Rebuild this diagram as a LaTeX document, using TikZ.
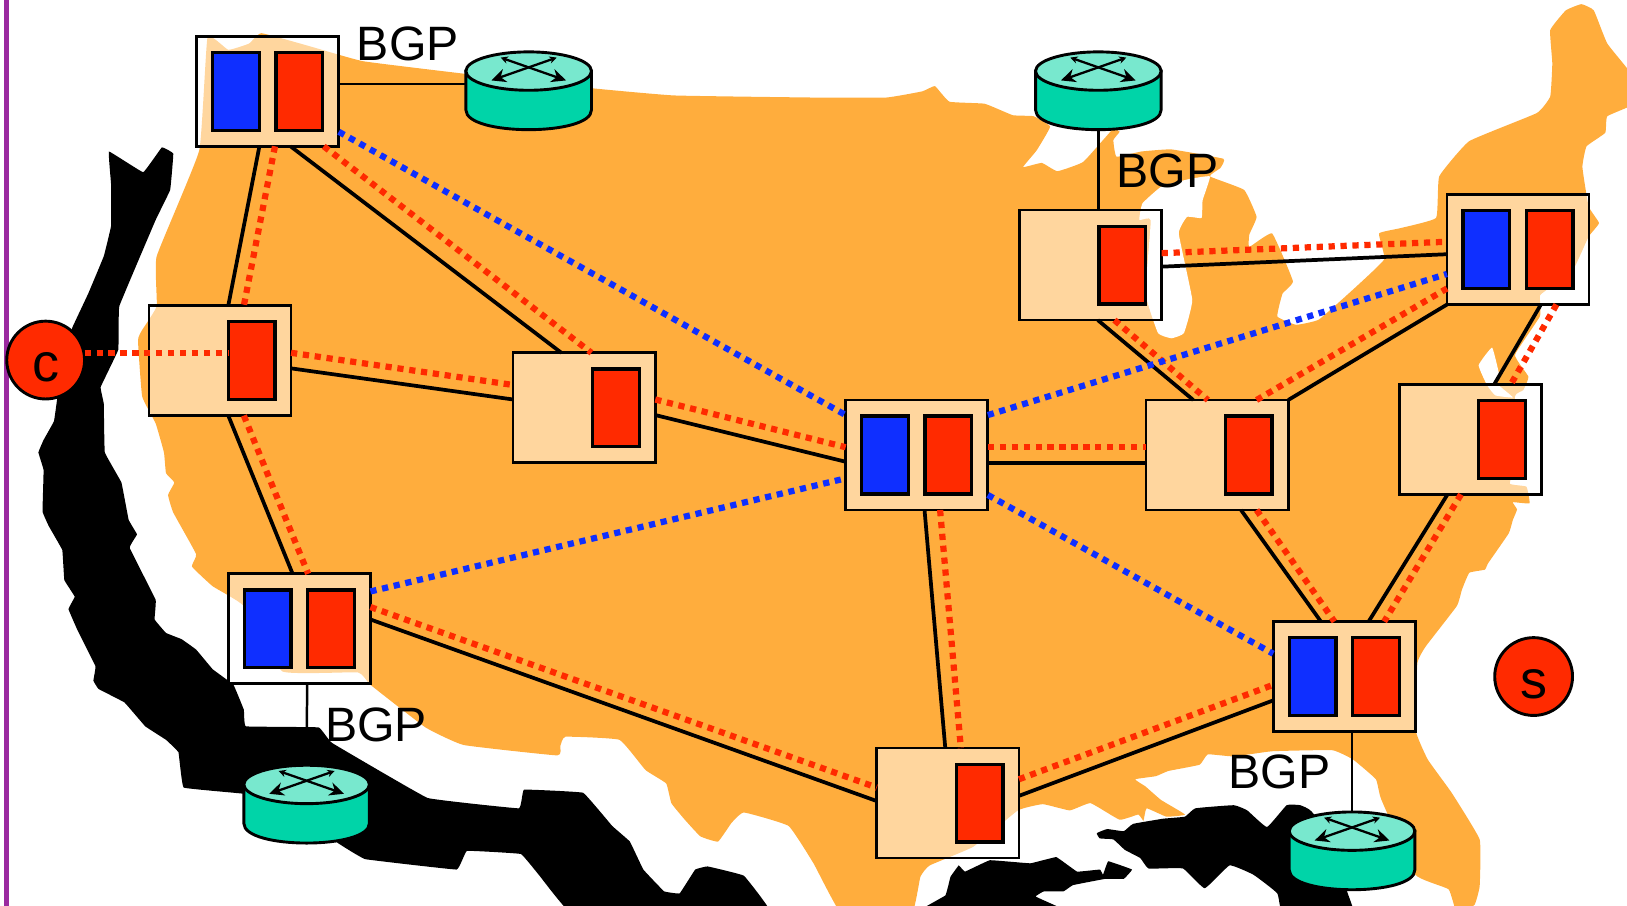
\documentclass[tikz,border=0pt]{standalone}
\usepackage{fontspec}
\setmainfont{Liberation Sans}
\usetikzlibrary{arrows.meta,shapes.geometric}

\definecolor{mapcol}{HTML}{FFAD3D}
\definecolor{redcol}{HTML}{FF2A00}
\definecolor{bluecol}{HTML}{0F2FFF}
\definecolor{sidecol}{HTML}{00D4A8}
\definecolor{topcol}{HTML}{78E8CE}
\definecolor{barcol}{HTML}{9B2AA0}

\tikzset{
  card/.style={rectangle,draw=black,line width=2.6pt,fill=white,fill opacity=0.5,minimum width=137pt,minimum height=106pt,inner sep=0pt,outer sep=0pt},
  bluecard/.style={rectangle,draw=black,line width=3.2pt,fill=bluecol,minimum width=45pt,minimum height=75pt,inner sep=0pt,outer sep=0pt},
  redcard/.style={bluecard,fill=redcol},
  wire/.style={line width=3.6pt,black},
  bgpwire/.style={line width=2.4pt,black},
  dotred/.style={line width=6pt,redcol,dash pattern=on 6pt off 5.5pt},
  dotblue/.style={line width=6pt,bluecol,dash pattern=on 6pt off 5.5pt},
  host/.style={circle,draw=black,line width=2.8pt,fill=redcol,minimum size=75pt,inner sep=0pt,outer sep=0pt,font=\fontsize{52}{52}\selectfont},
  bgptext/.style={inner sep=0pt,font=\fontsize{46.5}{50}\selectfont},
}

% router: name, centre of the top face
\newcommand{\router}[2]{
  \begin{scope}[shift={#2}]
    \draw[line width=2.8pt,fill=sidecol](-60.5,0)--(-60.5,37.5).. controls (-60.5,62.8) and (60.5,62.8) ..(60.5,37.5)--(60.5,0)--cycle;
    \node[ellipse,draw=black,line width=2.8pt,fill=topcol,minimum width=121pt,minimum height=37pt,inner sep=0pt,outer sep=0pt](#1)at(0,0){};
    \coordinate(#1-base)at(0,56.5);
    \coordinate(#1-side)at(-60.5,12.5);
    \draw[line width=2.2pt,{Stealth[length=7pt,width=7pt]}-{Stealth[length=14pt,width=13pt]}](-27,-13)--(36,9);
    \draw[line width=2.2pt,{Stealth[length=7pt,width=7pt]}-{Stealth[length=14pt,width=13pt]}](27,-13)--(-36,9);
  \end{scope}
}

\begin{document}
\begin{tikzpicture}[x=1pt,y=-1pt]
    \useasboundingbox(0,0)rectangle(1568,873);
    \clip(0,0)rectangle(1568,873);

    % land
    \fill[mapcol]plot[smooth cycle,tension=0.2]coordinates{
      (200,36)(220,48)(240,42)(252,32)(300,45)(350,59)(447,71)(570,85)(650,92)(784,94)(854,94)(889,88)(901,83)
      (915,98)(949,100)(976,111)(996,112)(1012,122)(999,145)(986,161)(1004,157)(1019,165)(1044,156)(1072,125)(1079,127)
      (1073,135)(1076,151)(1100,146)(1129,144)(1179,153)(1176,162)(1166,170)(1199,183)(1211,209)(1204,226)(1204,238)
      (1226,225)(1246,271)(1236,283)(1231,305)(1249,313)(1271,308)(1304,279)(1334,250)(1329,225)(1349,220)(1384,210)
      (1387,170)(1416,136)(1481,109)(1494,93)(1496,61)(1494,29)(1509,10)(1524,4)(1536,10)(1549,42)(1575,75)(1575,100)
      (1549,112)(1547,128)(1529,141)(1525,161)(1531,199)(1541,215)(1531,228)(1516,260)(1491,279)(1484,285)(1484,305)
      (1460,342)(1473,363)(1468,376)(1460,382)(1462,440)(1455,466)(1471,469)(1474,485)(1458,484)(1462,491)(1458,501)
      (1454,514)(1434,543)(1431,549)(1416,552)(1409,568)(1404,584)(1374,623)(1366,639)(1364,703)
      (1376,732)(1399,764)(1426,809)(1426,854)(1421,872)(1404,880)(1396,857)(1364,843)(1331,770)(1326,751)(1304,732)
      (1284,723)(1226,724)(1189,729)(1164,727)(1156,737)(1126,743)(1114,748)(1094,751)(1104,758)(1119,771)(1142,785)
      (1124,787)(1105,779)(1102,791)(1097,785)(1079,790)(1051,774)(1031,781)(1005,775)(981,781)(938,816)(896,834)(887,845)
      (877,885)(814,885)
      (784,832)(760,796)(717,783)(705,793)(692,811)(675,806)(660,790)(647,774)(642,755)(622,742)(597,713)(545,710)
      (540,719)(537,728)(447,718)(410,701)(357,660)(345,648)(272,647)(235,584)(205,565)(185,546)(189,534)(167,494)
      (162,477)(168,465)(160,456)(158,436)(150,408)(137,382)(133,328)(137,318)(151,295)(151,247)(192,145)};
    % lakes
    \fill[white]plot[smooth cycle,tension=0.2]coordinates{
      (1166,170)(1159,193)(1158,210)(1144,209)(1136,225)(1149,289)(1141,321)(1129,326)(1116,321)(1104,283)(1109,212)
      (1098,212)(1101,196)(1119,180)(1144,173)};
    \fill[white]plot[smooth cycle,tension=0.2]coordinates{
      (1438,335)(1425,352)(1433,371)(1441,381)(1458,383)(1443,370)(1445,362)};
    % black land
    \fill[black]plot[smooth cycle,tension=0.1]coordinates{
      (105,146)(138,166)(156,142)(167,148)(164,183)(150,212)(115,295)(114,337)(97,373)(100,389)(101,436)(117,465)(124,501)
      (132,515)(125,528)(150,578)(149,597)(160,610)(175,616)(189,626)(205,645)(225,660)(235,684)(237,700)(307,701)(320,716)
      (412,769)(500,779)(505,761)(562,764)(590,796)(607,811)(620,838)(640,859)(655,861)(670,838)(682,835)(717,844)(745,885)
      (556,885)(520,844)(502,823)(450,820)(440,838)(352,828)(325,812)(290,780)(235,765)(177,759)(172,725)(160,713)(140,700)
      (120,677)(95,664)(90,656)(92,642)(75,608)(66,587)(72,575)(62,559)(60,530)(47,507)(41,493)(42,453)(37,436)(42,424)
      (52,406)(55,385)(60,345)(70,315)(85,283)(100,247)(107,218)(107,177)};
    \fill[black]plot[smooth cycle,tension=0.2]coordinates{
      (1057,803)(1067,799)(1083,801)(1092,794)(1121,789)(1142,787)(1152,779)(1189,776)(1202,781)(1221,797)(1240,776)(1253,776)
      (1264,782)(1300,830)(1298,858)(1305,885)(1238,885)(1231,861)(1208,843)(1185,834)(1161,856)(1140,837)(1107,837)(1099,827)
      (1084,819)(1073,809)(1060,808)};
    \fill[black]plot[smooth cycle,tension=0.1]coordinates{
      (875,885)(911,863)(916,845)(924,834)(930,840)(954,829)(993,832)(1018,826)(1038,840)(1060,838)(1063,843)(1068,830)
      (1091,838)(1083,847)(1065,847)(1034,853)(1025,859)(1006,859)(998,864)(1022,875)(1025,885)};

    \fill[barcol](3.5,0)rectangle(9,873);

    % routers
    \router{rsea}{(509.5,68.5)}
    \router{rchi}{(1058.5,68.5)}
    \router{rla}{(295.5,756)}
    \router{ratl}{(1303,801)}

    % boxes
    \node[card](sea)at(258,88){};
    \node[card](sfo)at(212,347.5){};
    \node[card](den)at(563,393){};
    \node[card](kc)at(883.5,438.5){};
    \node[card](la)at(288.5,606){};
    \node[card](hou)at(913.5,774){};
    \node[card](chi)at(1051,255.5){};
    \node[card](ind)at(1173,438.5){};
    \node[card](nyc)at(1463,240.5){};
    \node[card](was)at(1417,423.5){};
    \node[card](atl)at(1295.5,652){};

    \node[bluecard](sea-blue)at([xshift=-30.5pt]sea.center){};
    \node[bluecard](kc-blue)at([xshift=-30.5pt]kc.center){};
    \node[bluecard](la-blue)at([xshift=-30.5pt]la.center){};
    \node[bluecard](nyc-blue)at([xshift=-30.5pt]nyc.center){};
    \node[bluecard](atl-blue)at([xshift=-30.5pt]atl.center){};

    \node[redcard](sea-red)at([xshift=30.5pt]sea.center){};
    \node[redcard](sfo-red)at([xshift=30.5pt]sfo.center){};
    \node[redcard](den-red)at([xshift=30.5pt]den.center){};
    \node[redcard](kc-red)at([xshift=30.5pt]kc.center){};
    \node[redcard](la-red)at([xshift=30.5pt]la.center){};
    \node[redcard](hou-red)at([xshift=30.5pt]hou.center){};
    \node[redcard](chi-red)at([xshift=30.5pt]chi.center){};
    \node[redcard](ind-red)at([xshift=30.5pt]ind.center){};
    \node[redcard](nyc-red)at([xshift=30.5pt]nyc.center){};
    \node[redcard](was-red)at([xshift=30.5pt]was.center){};
    \node[redcard](atl-red)at([xshift=30.5pt]atl.center){};

    % hosts
    \node[host](c)at(44,347){\raisebox{-21pt}[0pt][0pt]{c}};
    \node[host](s)at(1478,652){\raisebox{-21pt}[0pt][0pt]{s}};

    % BGP sessions
    \draw[bgpwire]([yshift=7pt]sea.east)--(rsea-side);
    \draw[bgpwire]([xshift=7.5pt]chi.north)--(rchi-base);
    \draw[bgpwire]([xshift=7.5pt]la.south)--(rla.north);
    \draw[bgpwire]([xshift=7.5pt]atl.south)--(ratl.north);
    \node[bgptext](bgpsea)at(393,42){BGP};
    \node[bgptext](bgpchi)at(1125,165){BGP};
    \node[bgptext](bgpla)at(362.5,699){BGP};
    \node[bgptext](bgpatl)at(1233,744){BGP};

    % solid links
    \draw[wire]([xshift=-8pt]sea.south)--([xshift=8pt]sfo.north);
    \draw[wire]([xshift=22pt]sea.south)--([xshift=-22pt]den.north);
    \draw[wire]([yshift=-7.5pt]sfo.east)--([yshift=8pt]den.west);
    \draw[wire]([xshift=8pt]sfo.south)--([xshift=-6.5pt]la.north);
    \draw[wire]([yshift=-7pt]den.east)--([yshift=-6.5pt]kc.west);
    \draw[wire]([yshift=9pt]la.east)--([yshift=2pt]hou.west);
    \draw[wire]([xshift=7.5pt]kc.south)--([xshift=-2.5pt]hou.north);
    \draw[wire]([yshift=-7.5pt]kc.east)--([yshift=-7.5pt]ind.west);
    \draw[wire]([xshift=7pt]chi.south)--([xshift=-23pt]ind.north);
    \draw[wire](ind.north east)--(nyc.south west);
    \draw[wire]([yshift=-1.5pt]chi.east)--([yshift=-4.5pt]nyc.west);
    \draw[wire]([xshift=22pt]nyc.south)--([xshift=23pt]was.north);
    \draw[wire]([xshift=23pt]ind.south)--([xshift=-22.5pt]atl.north);
    \draw[wire]([xshift=-22pt]was.south)--([xshift=23.5pt]atl.north);
    \draw[wire]([yshift=7pt]hou.east)--([yshift=-23pt]atl.west);

    % red paths
    \draw[dotred]([yshift=7pt]c.east)--([yshift=7.5pt]sfo-red.west);
    \draw[dotred]([xshift=7pt]sea.south)--([xshift=23pt]sfo.north);
    \draw[dotred]([xshift=54pt]sea.south)--([xshift=7pt]den.north);
    \draw[dotred]([yshift=7.5pt]sfo.east)--([yshift=22pt]den.west);
    \draw[dotred]([xshift=23pt]sfo.south)--([xshift=8.5pt]la.north);
    \draw[dotred]([yshift=8pt]den.east)--([yshift=7.5pt]kc.west);
    \draw[dotred]([yshift=21pt]la.east)--([yshift=15pt]hou.west);
    \draw[dotred]([xshift=22.5pt]kc.south)--([xshift=12.5pt]hou.north);
    \draw[dotred]([yshift=7.5pt]kc.east)--([yshift=7.5pt]ind.west);
    \draw[dotred]([xshift=23pt]chi.south)--([xshift=-9pt]ind.north);
    \draw[dotred]([xshift=38pt]ind.north)--([yshift=-37.5pt]nyc.west);
    \draw[dotred]([yshift=11.5pt]chi.east)--([yshift=7.5pt]nyc.west);
    \draw[dotred]([xshift=37pt]nyc.south)--([xshift=39pt]was.north);
    \draw[dotred]([xshift=38pt]ind.south)--([xshift=-9.5pt]atl.north);
    \draw[dotred]([xshift=-9pt]was.south)--([xshift=38.5pt]atl.north);
    \draw[dotred]([yshift=23pt]hou.east)--([yshift=-8pt]atl.west);

    % blue paths
    \draw[dotblue]([yshift=-39pt]sea.east)--([yshift=38.5pt]kc.west);
    \draw[dotblue]([yshift=36pt]la.east)--([yshift=-22.5pt]kc.west);
    \draw[dotblue]([yshift=38.5pt]kc.east)--([yshift=-23.5pt]nyc.west);
    \draw[dotblue]([yshift=-38.5pt]kc.east)--([yshift=22pt]atl.west);
\end{tikzpicture}
\end{document}
